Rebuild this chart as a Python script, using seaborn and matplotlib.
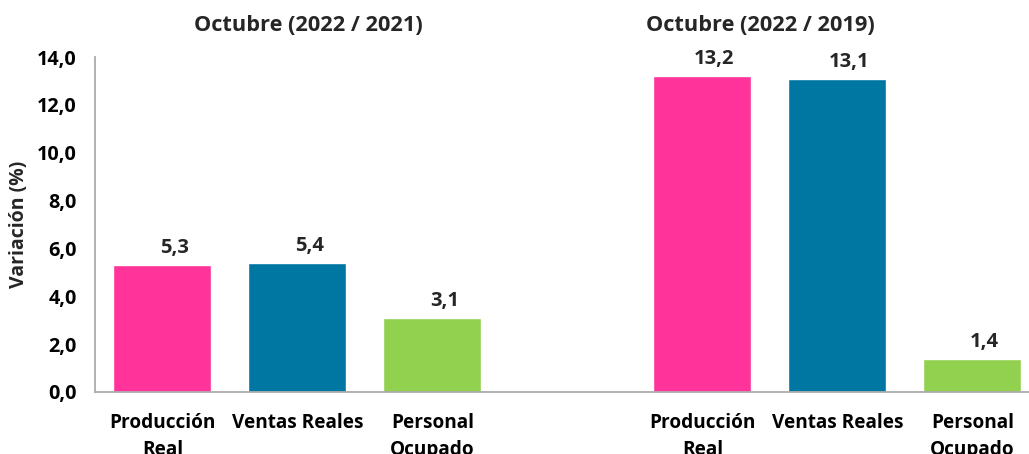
import matplotlib
matplotlib.use("Agg")
import matplotlib.pyplot as plt
import seaborn as sns
import pandas as pd
from matplotlib.ticker import FuncFormatter

# Data
indicators = ["Producción Real", "Ventas Reales", "Personal Ocupado"]
tick_labels = ["Producción\nReal", "Ventas Reales", "Personal\nOcupado"]
values_2021 = [5.3, 5.4, 3.1]
values_2019 = [13.2, 13.1, 1.4]
group_titles = ["Octubre (2022 / 2021)", "Octubre (2022 / 2019)"]
colors = {"Producción Real": "#FF3399", "Ventas Reales": "#0077A3", "Personal Ocupado": "#92D050"}

slots_g1 = [0, 1, 2]
slots_g2 = [4, 5, 6]

df = pd.DataFrame({
    "slot": slots_g1 + slots_g2,
    "indicador": indicators + indicators,
    "valor": values_2021 + values_2019,
})

sns.set_theme(style="white")
plt.rcParams["font.family"] = ["Open Sans", "DejaVu Sans"]
plt.rcParams["font.weight"] = "bold"

fig = plt.figure(figsize=(10.29, 4.54), dpi=100)
ax = fig.add_axes([95 / 1029, 62 / 454, 934 / 1029, 335 / 454])

sns.barplot(data=df, x="slot", y="valor", hue="indicador", palette=colors,
            order=list(range(7)), dodge=False, width=0.726, legend=False,
            saturation=1, ax=ax)

ax.set_xlim(-0.5, 6.42)
ax.set_ylim(0, 14)
ax.set_yticks([0, 2, 4, 6, 8, 10, 12, 14])
ax.yaxis.set_major_formatter(FuncFormatter(lambda v, p: f"{v:.1f}".replace(".", ",")))
ax.set_xticks(slots_g1 + slots_g2)
ax.set_xticklabels(tick_labels + tick_labels, fontsize=13.7, fontweight="bold", linespacing=1.45)
ax.tick_params(axis="both", length=0, colors="#000000")
ax.tick_params(axis="y", labelsize=14.2, pad=13)
ax.tick_params(axis="x", pad=15)
for lbl in ax.get_yticklabels():
    lbl.set_fontweight("bold")
ax.set_xlabel("")
ax.set_ylabel("Variación (%)", fontsize=14, fontweight="bold", labelpad=6)

for s in ["top", "right"]:
    ax.spines[s].set_visible(False)
for s in ["left", "bottom"]:
    ax.spines[s].set_color("#ABABAB")
    ax.spines[s].set_linewidth(1.3)

for cont in ax.containers:
    for b in cont:
        h = b.get_height()
        if h > 0:
            ax.annotate(f"{h:.1f}".replace(".", ","),
                        xy=(b.get_x() + b.get_width() / 2, h),
                        xytext=(8.5, 5), textcoords="offset points",
                        ha="center", va="bottom", fontsize=14.5, fontweight="bold")

ax.text(1.08, 15.3, group_titles[0], ha="center", va="center", fontsize=15.7,
        fontweight="bold", clip_on=False)
ax.text(4.43, 15.3, group_titles[1], ha="center", va="center", fontsize=15.7,
        fontweight="bold", clip_on=False)

fig.savefig("out.png", dpi=100)
